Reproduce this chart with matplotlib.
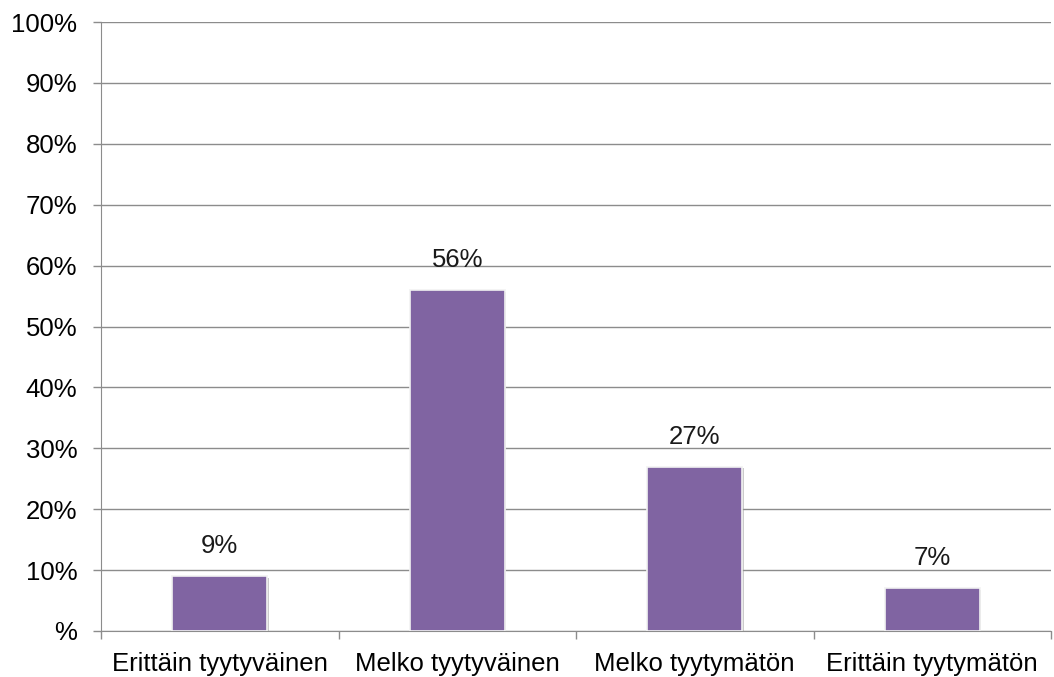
import matplotlib
matplotlib.use("Agg")
import matplotlib.pyplot as plt
import matplotlib.patheffects as pe
from matplotlib.ticker import FuncFormatter, FixedLocator

categories = ["Erittäin tyytyväinen", "Melko tyytyväinen", "Melko tyytymätön", "Erittäin tyytymätön"]
values = [9, 56, 27, 7]
value_labels = ["9%", "56%", "27%", "7%"]
y_ticks = [0, 10, 20, 30, 40, 50, 60, 70, 80, 90, 100]

plt.rcParams['font.family'] = ['Liberation Sans', 'DejaVu Sans']

W, H = 1054, 677
fig = plt.figure(figsize=(W / 100, H / 100), dpi=100)
ax = fig.add_axes([101 / W, 1 - 631 / H, (1051 - 101) / W, (631 - 22) / H])

grid_c = "#8c8c8c"
bar_c = "#8064a2"
fs = 18.5

x = list(range(len(categories)))
bars = ax.bar(x, values, width=0.4, color=bar_c, edgecolor="#f2f2f2", linewidth=1.2, zorder=3)
for b in bars:
    b.set_path_effects([pe.SimplePatchShadow(offset=(1.2, -1.2), shadow_rgbFace="#999999", alpha=0.5), pe.Normal()])

for xi, v, lab in zip(x, values, value_labels):
    ax.annotate(lab, (xi, v), xytext=(0, 13), textcoords="offset points",
                ha="center", va="bottom", fontsize=fs, color="#1a1a1a")

ax.set_xlim(-0.5, len(categories) - 0.5)
ax.set_ylim(0, 100)
ax.set_yticks(y_ticks)
ax.yaxis.set_major_formatter(FuncFormatter(lambda v, p: "%" if v == 0 else f"{int(v)}%"))
ax.grid(axis="y", color=grid_c, linewidth=1.0, zorder=0)

ax.xaxis.set_major_locator(FixedLocator([i - 0.5 for i in range(len(categories) + 1)]))
ax.xaxis.set_minor_locator(FixedLocator(x))
ax.set_xticklabels([])
ax.set_xticklabels(categories, minor=True)
ax.tick_params(axis="x", which="major", length=6, color=grid_c, width=1.0)
ax.tick_params(axis="x", which="minor", length=0, pad=15, labelsize=fs, labelcolor="#000000")
ax.tick_params(axis="y", length=6, color=grid_c, width=1.0, pad=11, labelsize=fs, labelcolor="#000000")

for s in ["top", "right"]:
    ax.spines[s].set_visible(False)
ax.spines["left"].set_color(grid_c)
ax.spines["bottom"].set_color(grid_c)

fig.savefig("out.png", dpi=100, facecolor="white")
